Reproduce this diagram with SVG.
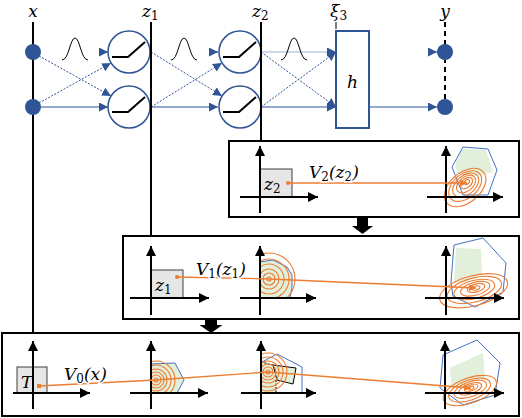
<svg xmlns="http://www.w3.org/2000/svg" width="522" height="418" viewBox="0 0 522 418">
<defs>
<marker id="ab" viewBox="0 0 10 10" refX="10" refY="5" markerWidth="9" markerHeight="9" markerUnits="userSpaceOnUse" orient="auto"><path d="M0,0 L10,5 L0,10 z" fill="#2F5597"/></marker>
<marker id="ak" viewBox="0 0 10 10" refX="10" refY="5" markerWidth="10" markerHeight="10" markerUnits="userSpaceOnUse" orient="auto"><path d="M0,0 L10,5 L0,10 z" fill="#000"/></marker>
<marker id="ao" viewBox="0 0 10 10" refX="10" refY="5" markerWidth="7" markerHeight="7" markerUnits="userSpaceOnUse" orient="auto"><path d="M0,0 L10,5 L0,10 z" fill="#ED7D31"/></marker>
<clipPath id="cp2"><rect x="260" y="236" width="60" height="62"/></clipPath>
<clipPath id="cb2"><rect x="151" y="333" width="60" height="60"/></clipPath>
<clipPath id="cb3"><rect x="261" y="333" width="60" height="60"/></clipPath>
</defs>
<style>
.ln{stroke:#000;stroke-width:2;fill:none}
.cn{stroke:#2F5597;stroke-width:1.2;fill:none}
.dsh{stroke-dasharray:2,1.5;stroke-width:1}
.lt{stroke:#9DB3DC}
.nd{fill:#2F5597}
.unit{fill:#fff;stroke:#2F5597;stroke-width:1.5}
.relu{fill:none;stroke:#000;stroke-width:2}
.gs{fill:none;stroke:#000;stroke-width:1}
.lbl{font-family:"DejaVu Serif","Liberation Serif",serif;font-style:italic;font-size:17px;fill:#000}
.sub{font-style:normal;font-size:12px}
.halo{paint-order:stroke;stroke:#fff;stroke-width:3px}
.panel{fill:#fff;stroke:#000;stroke-width:2}
.ax{stroke:#000;stroke-width:2;fill:none}
.box{fill:#e6e6e6;stroke:#404040;stroke-width:1}
.poly{fill:none;stroke:#4472C4;stroke-width:1}
.grn{fill:#E2EFDA}
.or{fill:none;stroke:#ED7D31;stroke-width:1.1}
.orl{fill:none;stroke:#ED7D31;stroke-width:1.3}
.blk{fill:#000}
</style>

<g id="layer-lines">
<line class="ln" x1="33" y1="22" x2="33" y2="333"/>
<line class="ln" x1="151" y1="22" x2="151" y2="236"/>
<line class="ln" x1="261" y1="22" x2="261" y2="141"/>
<line x1="336" y1="22" x2="336" y2="29" stroke="#000" stroke-width="1"/>
<line class="ln" x1="445" y1="22" x2="445" y2="107" stroke-dasharray="5,4"/>
</g>

<g id="labels">
<text class="lbl" x="33" y="17" text-anchor="middle" font-size="18">x</text>
<text class="lbl" x="142" y="17">z<tspan class="sub" dy="3">1</tspan></text>
<text class="lbl" x="252" y="17">z<tspan class="sub" dy="3">2</tspan></text>
<text class="lbl" x="330" y="17">ξ<tspan class="sub" dy="3">3</tspan></text>
<text class="lbl" x="445" y="17" text-anchor="middle">y</text>
</g>

<g id="connectors">
<line class="cn dsh" x1="39" y1="56" x2="111" y2="96" marker-end="url(#ab)"/>
<line class="cn dsh" x1="39" y1="103" x2="111" y2="63" marker-end="url(#ab)"/>
<line class="cn" x1="41" y1="107" x2="108" y2="107" marker-end="url(#ab)"/>
<line class="cn" x1="104" y1="52" x2="108" y2="52" marker-end="url(#ab)"/>
<line class="cn dsh" x1="151" y1="52" x2="222" y2="96" marker-end="url(#ab)"/>
<line class="cn dsh" x1="151" y1="107" x2="222" y2="63" marker-end="url(#ab)"/>
<line class="cn" x1="151" y1="107" x2="218" y2="107" marker-end="url(#ab)"/>
<line class="cn" x1="214" y1="52" x2="218" y2="52" marker-end="url(#ab)"/>
<line class="cn lt" x1="261" y1="52" x2="336" y2="52" marker-end="url(#ab)"/>
<line class="cn dsh" x1="261" y1="52" x2="336" y2="107" marker-end="url(#ab)"/>
<line class="cn dsh" x1="261" y1="107" x2="336" y2="52" marker-end="url(#ab)"/>
<line class="cn" x1="261" y1="107" x2="336" y2="107" marker-end="url(#ab)"/>
<line class="cn" x1="370" y1="107" x2="437" y2="107" marker-end="url(#ab)"/>
<line class="cn" x1="433" y1="52" x2="437" y2="52" marker-end="url(#ab)"/>
</g>

<g id="gaussians">
<path class="gs" d="M62,60 C69,60 70,38 75,38 C80,38 81,60 88,60"/>
<path class="gs" d="M171,60 C178,60 179,38 184,38 C189,38 190,60 197,60"/>
<path class="gs" d="M281,60 C288,60 289,38 294,38 C299,38 300,60 307,60"/>
</g>

<g id="node-x1"><circle class="nd" cx="33" cy="52" r="8"/></g>
<g id="node-x2"><circle class="nd" cx="33" cy="107" r="8"/></g>
<g id="node-u11"><circle class="unit" cx="129" cy="52" r="21"/><path class="relu" d="M112,57 H128 L145,42"/></g>
<g id="node-u12"><circle class="unit" cx="129" cy="107" r="21"/><path class="relu" d="M112,112 H128 L145,97"/></g>
<g id="node-u21"><circle class="unit" cx="240" cy="52" r="21"/><path class="relu" d="M223,57 H239 L256,42"/></g>
<g id="node-u22"><circle class="unit" cx="240" cy="107" r="21"/><path class="relu" d="M223,112 H239 L256,97"/></g>
<g id="node-h"><rect x="336" y="31" width="33" height="97" fill="#fff" stroke="#2F5597" stroke-width="2"/><text class="lbl" x="352.5" y="88" text-anchor="middle" font-size="21">h</text></g>
<g id="node-y1"><circle class="nd" cx="445" cy="52" r="8"/></g>
<g id="node-y2"><circle class="nd" cx="445" cy="107" r="8"/></g>
<line class="ln" x1="151" y1="22" x2="151" y2="130"/>
<line class="ln" x1="261" y1="22" x2="261" y2="130"/>

<g id="panel1">
<rect class="panel" x="229" y="141" width="290" height="76"/>
<rect class="box" x="260" y="169" width="32" height="28"/>
<text class="lbl" x="264" y="190">z<tspan class="sub" dy="3">2</tspan></text>
<line class="ax" x1="260" y1="213" x2="260" y2="146" marker-end="url(#ak)"/>
<line class="ax" x1="240" y1="197" x2="318" y2="197" marker-end="url(#ak)"/>
<path class="grn" d="M462,149 L486,150 L493,172 L476,176 L458,174 L455,165 Z"/>
<path class="poly" d="M463,147 L488,149 L497,170 L488,195 L463,195 L452,167 Z"/>
<g transform="translate(467,182) rotate(-40)">
<ellipse class="or" cx="0" cy="0" rx="3" ry="2"/>
<ellipse class="or" cx="-1" cy="0.5" rx="7" ry="4.5"/>
<ellipse class="or" cx="-2" cy="1" rx="11" ry="7"/>
<ellipse class="or" cx="-3" cy="1.5" rx="15" ry="9.5"/>
<ellipse class="or" cx="-4" cy="2" rx="19" ry="12"/>
<ellipse class="or" cx="-5" cy="3" rx="24" ry="15"/>
</g>
<line class="ax" x1="446" y1="213" x2="446" y2="146" marker-end="url(#ak)"/>
<line class="ax" x1="427" y1="197" x2="503" y2="197" marker-end="url(#ak)"/>
<line class="orl" x1="288" y1="183" x2="467" y2="183" marker-end="url(#ao)"/>
<circle cx="288" cy="183" r="2" fill="#ED7D31"/>
<text class="lbl halo" x="309" y="178">V<tspan class="sub" dy="3">2</tspan><tspan dy="-3">(z</tspan><tspan class="sub" dy="3">2</tspan><tspan dy="-3">)</tspan></text>
</g>
<path id="blockarrow1" class="blk" d="M357,218 H368 V226 H373 L362.5,234 L352,226 H357 Z"/>

<g id="panel2">
<rect class="panel" x="123" y="236" width="396" height="83"/>
<rect class="box" x="151" y="270" width="32" height="28"/>
<text class="lbl" x="155" y="291">z<tspan class="sub" dy="3">1</tspan></text>
<line class="ax" x1="151" y1="315" x2="151" y2="246" marker-end="url(#ak)"/>
<line class="ax" x1="130" y1="298" x2="209" y2="298" marker-end="url(#ak)"/>
<g clip-path="url(#cp2)">
<path class="grn" d="M260,262 L273,260 L287,267 L292,275 L292,287 L290,298 L260,298 Z"/>
<path class="poly" d="M260,262 L273,260 L287,267 L292,275 L292,287 L290,298"/>
<circle class="or" cx="269" cy="279" r="2"/>
<circle class="or" cx="269" cy="279" r="6"/>
<circle class="or" cx="269" cy="279" r="10"/>
<circle class="or" cx="269" cy="279" r="15"/>
<circle class="or" cx="269" cy="279" r="20"/>
<circle class="or" cx="269" cy="279" r="26"/>
</g>
<line class="ax" x1="260" y1="315" x2="260" y2="246" marker-end="url(#ak)"/>
<line class="ax" x1="240" y1="298" x2="316" y2="298" marker-end="url(#ak)"/>
<path class="grn" d="M456,248 L481,249 L482,274 L462,283 L454,283 Z"/>
<path class="poly" d="M454,245 L483,238 L506,263 L503,292 L475,307 L453,296 L451,282 Z"/>
<g transform="translate(476,288) rotate(-15)">
<ellipse class="or" cx="0" cy="0" rx="4" ry="2"/>
<ellipse class="or" cx="0" cy="0" rx="9" ry="4"/>
<ellipse class="or" cx="-1" cy="0.5" rx="15" ry="6.5"/>
<ellipse class="or" cx="-2" cy="1" rx="21" ry="9"/>
<ellipse class="or" cx="-2" cy="1.5" rx="28" ry="12"/>
<ellipse class="or" cx="-3" cy="2" rx="35" ry="15"/>
</g>
<line class="ax" x1="446" y1="315" x2="446" y2="246" marker-end="url(#ak)"/>
<line class="ax" x1="425" y1="298" x2="504" y2="298" marker-end="url(#ak)"/>
<polyline class="orl" points="177,277 269,279 476,288" marker-end="url(#ao)"/>
<circle cx="177" cy="277" r="2" fill="#ED7D31"/>
<text class="lbl halo" x="196" y="275">V<tspan class="sub" dy="3">1</tspan><tspan dy="-3">(z</tspan><tspan class="sub" dy="3">1</tspan><tspan dy="-3">)</tspan></text>
</g>
<path id="blockarrow2" class="blk" d="M205,318 H217 V325 H222.5 L211,333 L199.5,325 H205 Z"/>

<g id="panel3">
<rect class="panel" x="2" y="333" width="517" height="83"/>
<rect class="box" x="17" y="367" width="30" height="26"/>
<text class="lbl" x="21" y="388">T</text>
<line class="ax" x1="33" y1="409" x2="33" y2="341" marker-end="url(#ak)"/>
<line class="ax" x1="13" y1="393" x2="90" y2="393" marker-end="url(#ak)"/>
<g clip-path="url(#cb2)">
<path class="grn" d="M151,364 L175,363 L184,380 L177,393 L151,393 Z"/>
<path class="poly" d="M151,364 L175,363 L184,380 L177,393"/>
<circle class="or" cx="156" cy="380" r="2"/>
<circle class="or" cx="156" cy="380" r="5"/>
<circle class="or" cx="156" cy="380" r="8"/>
<circle class="or" cx="156" cy="380" r="11"/>
<circle class="or" cx="156" cy="380" r="15"/>
<circle class="or" cx="156" cy="380" r="19"/>
</g>
<line class="ax" x1="151" y1="409" x2="151" y2="341" marker-end="url(#ak)"/>
<line class="ax" x1="130" y1="393" x2="208" y2="393" marker-end="url(#ak)"/>
<g clip-path="url(#cb3)">
<path class="grn" d="M261,362 L273,365 L277,380 L276,393 L261,393 Z"/>
<path class="grn" d="M273,365 L296,368 L293,384 L277,380 Z" stroke="#000" stroke-width="1"/>
<path d="M261,362 L273,365 M276,380 V393" fill="none" stroke="#000" stroke-width="1" stroke-dasharray="2,1.5"/>
<path class="poly" d="M262,362 L277,354 L302,367 L302,393"/>
<circle class="or" cx="268" cy="372" r="2"/>
<circle class="or" cx="268" cy="372" r="5"/>
<circle class="or" cx="268" cy="372" r="8"/>
<circle class="or" cx="268" cy="372" r="11"/>
<circle class="or" cx="268" cy="372" r="15"/>
<circle class="or" cx="268" cy="372" r="19"/>
</g>
<line class="ax" x1="261" y1="409" x2="261" y2="341" marker-end="url(#ak)"/>
<line class="ax" x1="241" y1="393" x2="316" y2="393" marker-end="url(#ak)"/>
<path class="grn" d="M450,368 L483,353 L485,378 L452,389 Z"/>
<path class="poly" d="M443,355 L477,340 L500,363 L495,395 L463,405 L440,388 Z"/>
<g transform="translate(471,388) rotate(-20)">
<ellipse class="or" cx="0" cy="0" rx="3" ry="1.5"/>
<ellipse class="or" cx="0" cy="0" rx="7" ry="3"/>
<ellipse class="or" cx="-1" cy="0.5" rx="12" ry="5"/>
<ellipse class="or" cx="-1" cy="1" rx="17" ry="7.5"/>
<ellipse class="or" cx="-2" cy="1.5" rx="22" ry="10"/>
<ellipse class="or" cx="-2" cy="2" rx="28" ry="12.5"/>
</g>
<line class="ax" x1="445" y1="409" x2="445" y2="341" marker-end="url(#ak)"/>
<line class="ax" x1="425" y1="393" x2="504" y2="393" marker-end="url(#ak)"/>
<polyline class="orl" points="39,386 156,380 268,372 471,388" marker-end="url(#ao)"/>
<rect x="37" y="384" width="4" height="4" fill="#ED7D31"/>
<text class="lbl halo" x="64" y="380">V<tspan class="sub" dy="3">0</tspan><tspan dy="-3">(x)</tspan></text>
</g>
</svg>
